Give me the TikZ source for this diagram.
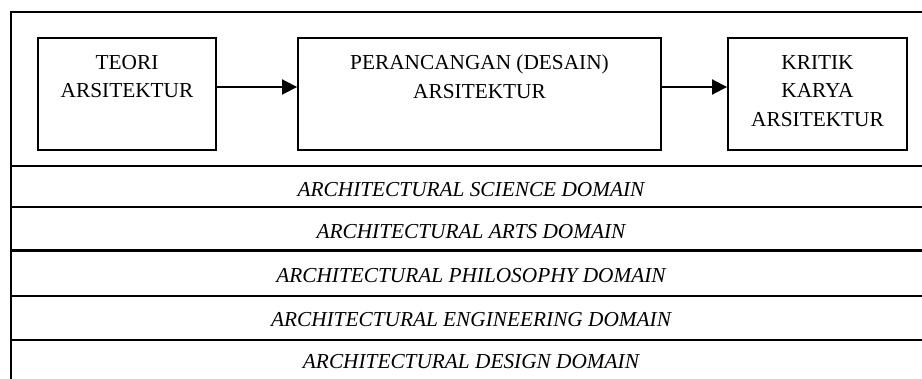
\documentclass[tikz,border=0pt]{standalone}
\usepackage{fontspec}
\setmainfont{Liberation Serif}
\usetikzlibrary{arrows.meta}
\begin{document}
\begin{tikzpicture}[x=1pt,y=-1pt,
  frameline/.style={line width=1.9pt},
  thickline/.style={line width=3pt},
  box/.style={draw,line width=1.9pt,rectangle,inner sep=0pt},
  boxtext/.style={anchor=north,inner sep=0pt,align=center,font=\fontsize{21.3}{28.5}\selectfont},
  domtext/.style={anchor=base,inner sep=0pt,font=\fontsize{21.3}{25}\selectfont\itshape},
  arr/.style={line width=1.9pt,-{Triangle[length=15pt,width=15pt]}}]
\useasboundingbox (0,0) rectangle (922,379);
% frame
\draw[frameline] (11,390) -- (11,12) -- (935,12);
\draw[frameline] (11,166) -- (935,166);
\draw[frameline] (11,207) -- (935,207);
\draw[thickline] (11,251) -- (935,251);
\draw[frameline] (11,296) -- (935,296);
\draw[frameline] (11,340) -- (935,340);
% boxes
\node[box,minimum width=178pt,minimum height=112pt] (teori) at (127,94) {};
\node[box,minimum width=363pt,minimum height=112pt] (peran) at (479.5,94) {};
\node[box,minimum width=179pt,minimum height=112pt] (kritik) at (817.5,94) {};
\node[boxtext] (teoriT) at (127,55) {TEORI\\ARSITEKTUR};
\node[boxtext] (peranT) at (479.5,55) {PERANCANGAN (DESAIN)\\ARSITEKTUR};
\node[boxtext] (kritikT) at (817.5,55) {KRITIK\\KARYA\\ARSITEKTUR};
\draw[arr] ([yshift=7pt]teori.east) -- ([yshift=7pt]peran.west);
\draw[arr] ([yshift=7pt]peran.east) -- ([yshift=7pt]kritik.west);
% domains
\node[domtext] (d1) at (471,196.5) {ARCHITECTURAL SCIENCE DOMAIN};
\node[domtext] (d2) at (471,239) {ARCHITECTURAL ARTS DOMAIN};
\node[domtext] (d3) at (471,283) {ARCHITECTURAL PHILOSOPHY DOMAIN};
\node[domtext] (d4) at (471,327) {ARCHITECTURAL ENGINEERING DOMAIN};
\node[domtext] (d5) at (471,369) {ARCHITECTURAL DESIGN DOMAIN};
\end{tikzpicture}
\end{document}
